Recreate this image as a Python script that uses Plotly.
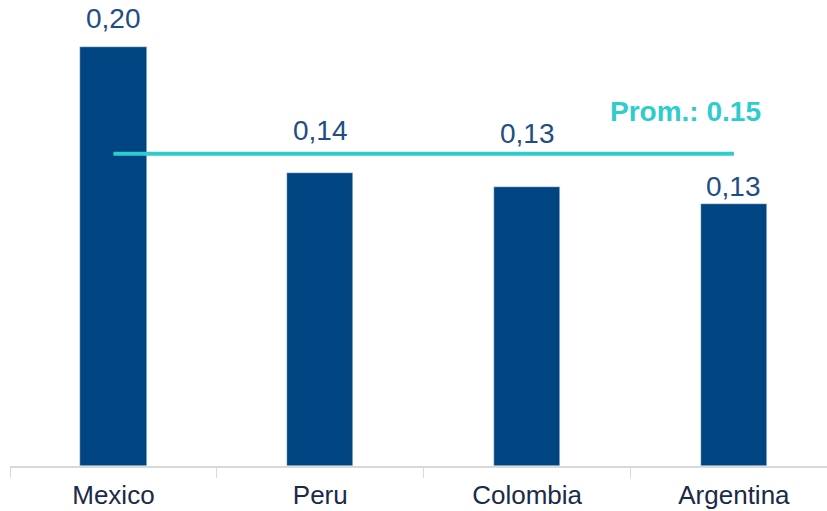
import plotly.graph_objects as go

categories = ["Mexico", "Peru", "Colombia", "Argentina"]
values = [0.200, 0.140, 0.133, 0.125]
value_labels = ["0,20", "0,14", "0,13", "0,13"]
label_y = [0.2134, 0.160, 0.1585, 0.1335]
average = 0.149
average_label = "Prom.: 0.15"

bar_color = "#004481"
line_color = "#2ECCCC"
text_color = "#1F4E85"
font = "Liberation Sans, Arial, sans-serif"

fig = go.Figure()
fig.add_trace(go.Bar(x=categories, y=values, marker_color=bar_color, width=0.32,
                     hoverinfo="skip"))
fig.add_trace(go.Scatter(x=[categories[0], categories[-1]], y=[average, average],
                         mode="lines", line=dict(color=line_color, width=4),
                         hoverinfo="skip"))

for c, t, ly in zip(categories, value_labels, label_y):
    fig.add_annotation(x=c, y=ly, text=t, showarrow=False, yanchor="middle",
                       font=dict(family=font, size=28, color=text_color))

fig.add_annotation(x=3, y=0.169, xshift=-48, text="<b>" + average_label + "</b>",
                   showarrow=False, yanchor="middle",
                   font=dict(family=font, size=28, color=line_color))

fig.update_layout(
    width=827, height=511,
    margin=dict(l=10, r=0, t=0, b=45),
    plot_bgcolor="white", paper_bgcolor="white",
    showlegend=False, bargap=0,
    xaxis=dict(range=[-0.5, 3.45], showline=True, linecolor="#D9D9D9", linewidth=1.5,
               ticks="outside", ticklen=10, tickcolor="#D9D9D9", tickson="boundaries",
               ticklabelstandoff=5,
               tickfont=dict(family=font, size=26, color="#1B2A48"),
               showgrid=False, fixedrange=True),
    yaxis=dict(range=[0, 0.2224], visible=False, showgrid=False, fixedrange=True),
)

fig.write_html("out.html", config={"displayModeBar": False},
               post_script="document.body.style.margin='0';")
